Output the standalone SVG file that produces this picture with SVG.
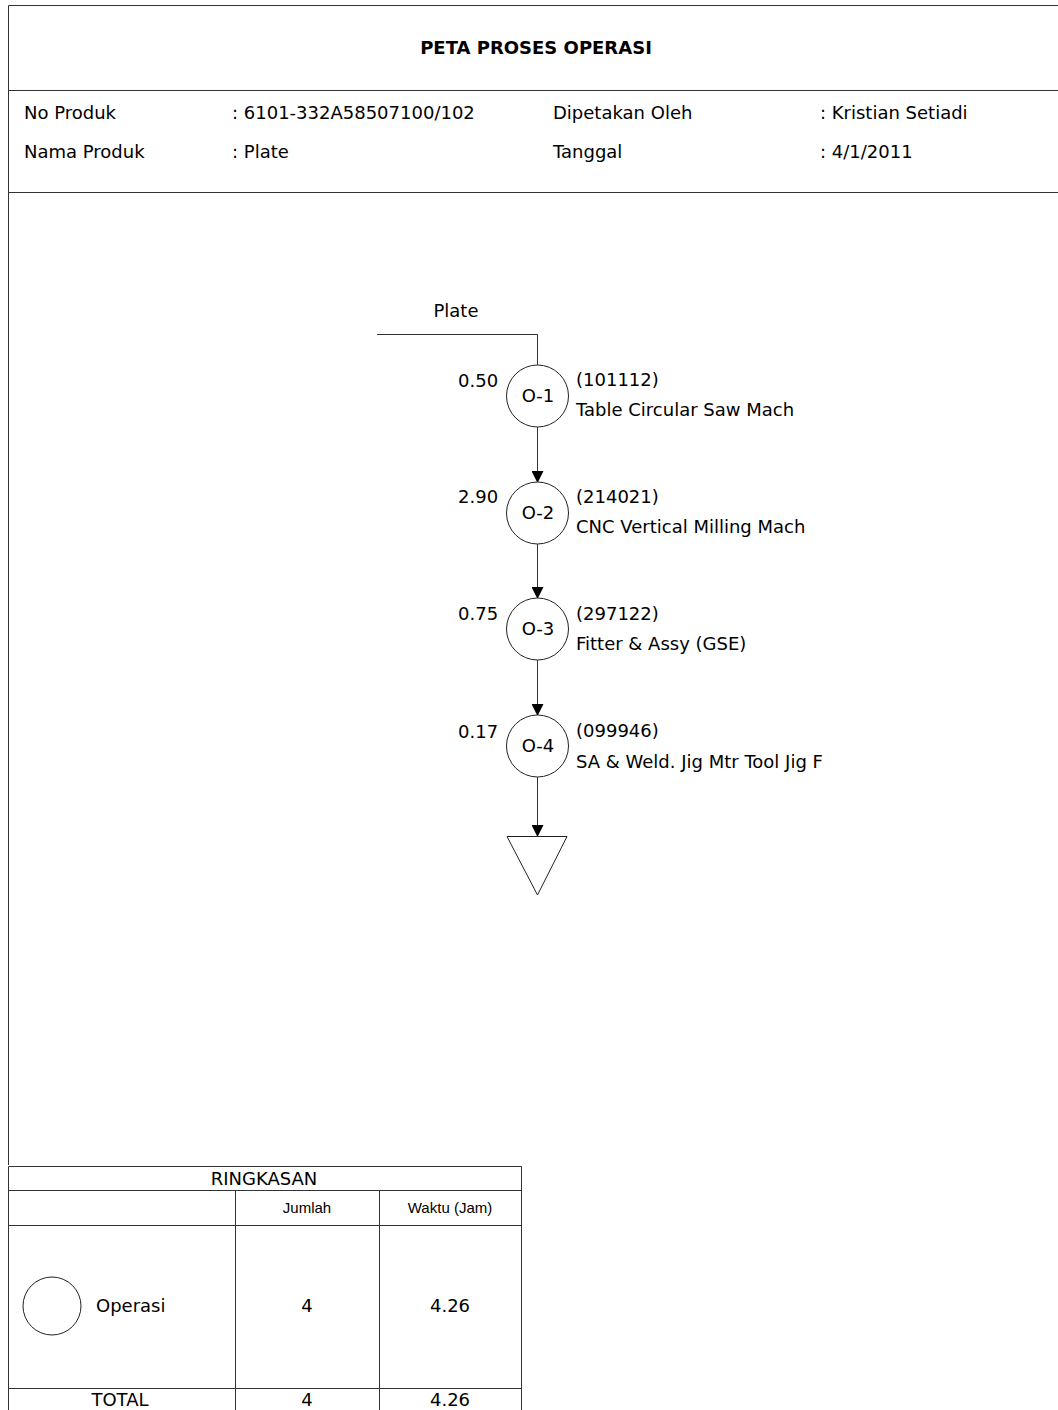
<svg xmlns="http://www.w3.org/2000/svg" width="1058" height="1410" viewBox="0 0 1058 1410">
<style>
.t{font-family:"DejaVu Sans","Liberation Sans",sans-serif;font-size:18px;fill:#000}
.b{font-weight:bold}
.m{text-anchor:middle}
.s{font-family:"Liberation Sans",Arial,sans-serif;font-size:15px;fill:#000}
.ln{stroke:#333;stroke-width:1;fill:none}
.nd{stroke:#222;stroke-width:1;fill:#fff}
</style>
<defs>
<marker id="ah" markerWidth="12" markerHeight="12" refX="11" refY="6" orient="auto" markerUnits="userSpaceOnUse">
<path d="M0,0 L12,6 L0,12 Z" fill="#000"/>
</marker>
</defs>
<g id="frame">
<path class="ln" d="M8.5,1165 V5.5 H1058 M8.5,90.5 H1058 M8.5,192.5 H1058"/>
<text class="t b m" x="536" y="54">PETA PROSES OPERASI</text>
<text class="t" x="24" y="119">No Produk</text>
<text class="t" x="232" y="119">:  6101-332A58507100/102</text>
<text class="t" x="553" y="119">Dipetakan Oleh</text>
<text class="t" x="820" y="119">: Kristian Setiadi</text>
<text class="t" x="24" y="158">Nama Produk</text>
<text class="t" x="232" y="158">: Plate</text>
<text class="t" x="553" y="158">Tanggal</text>
<text class="t" x="820" y="158">: 4/1/2011</text>
</g>
<g id="connectors">
<path class="ln" d="M377,334.5 H537.5 V365"/>
<path class="ln" d="M537.5,427 V482" marker-end="url(#ah)"/>
<path class="ln" d="M537.5,544 V598" marker-end="url(#ah)"/>
<path class="ln" d="M537.5,660 V715" marker-end="url(#ah)"/>
<path class="ln" d="M537.5,777 V836" marker-end="url(#ah)"/>
</g>
<text class="t m" x="456" y="317">Plate</text>
<g id="o1">
<circle class="nd" cx="537.5" cy="396" r="31"/>
<text class="t m" x="538" y="402">O-1</text>
<text class="t" x="458" y="387">0.50</text>
<text class="t" x="576" y="386">(101112)</text>
<text class="t" x="576" y="416">Table Circular Saw Mach</text>
</g>
<g id="o2">
<circle class="nd" cx="537.5" cy="513" r="31"/>
<text class="t m" x="538" y="519">O-2</text>
<text class="t" x="458" y="503">2.90</text>
<text class="t" x="576" y="503">(214021)</text>
<text class="t" x="576" y="533">CNC Vertical Milling Mach</text>
</g>
<g id="o3">
<circle class="nd" cx="537.5" cy="629" r="31"/>
<text class="t m" x="538" y="635">O-3</text>
<text class="t" x="458" y="620">0.75</text>
<text class="t" x="576" y="620">(297122)</text>
<text class="t" x="576" y="650">Fitter &amp; Assy (GSE)</text>
</g>
<g id="o4">
<circle class="nd" cx="537.5" cy="746" r="31"/>
<text class="t m" x="538" y="752">O-4</text>
<text class="t" x="458" y="738">0.17</text>
<text class="t" x="576" y="737">(099946)</text>
<text class="t" x="576" y="768">SA &amp; Weld. Jig Mtr Tool Jig F</text>
</g>
<g id="storage">
<path class="nd" d="M507,836.5 H567 L537.5,895 Z"/>
</g>
<g id="summary">
<path class="ln" d="M8.5,1410 V1166.5 H521.5 V1410 M8.5,1190.5 H521.5 M8.5,1225.5 H521.5 M8.5,1388.5 H521.5 M235.5,1190.5 V1410 M379.5,1190.5 V1410"/>
<text class="t m" x="264" y="1185">RINGKASAN</text>
<text class="s m" x="307" y="1213">Jumlah</text>
<text class="s m" x="450" y="1213">Waktu (Jam)</text>
<circle class="nd" cx="52" cy="1306" r="29"/>
<text class="t" x="96" y="1312">Operasi</text>
<text class="t m" x="307" y="1312">4</text>
<text class="t m" x="450" y="1312">4.26</text>
<text class="t m" x="120" y="1406">TOTAL</text>
<text class="t m" x="307" y="1406">4</text>
<text class="t m" x="450" y="1406">4.26</text>
</g>
</svg>
